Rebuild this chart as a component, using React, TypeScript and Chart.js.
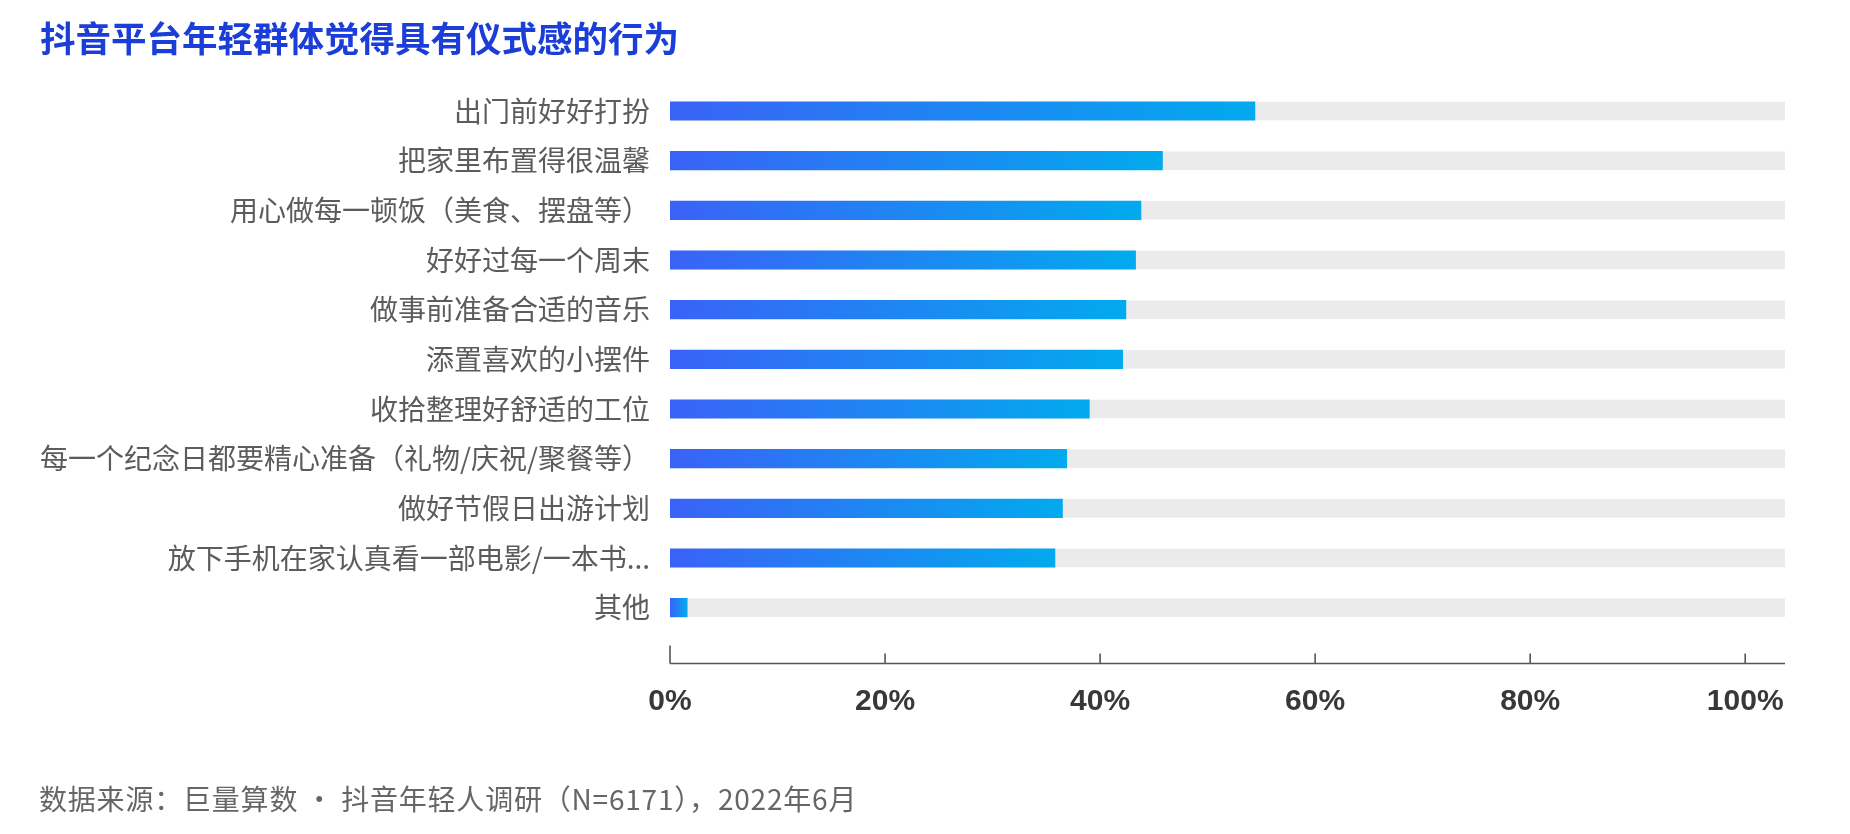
import React, { useEffect, useRef } from "react";
import { Chart, registerables } from "chart.js";

Chart.register(...registerables);

const TITLE = "抖音平台年轻群体觉得具有仪式感的行为";
const SOURCE = "数据来源：巨量算数 · 抖音年轻人调研（N=6171），2022年6月";

const categories = [
  "出门前好好打扮",
  "把家里布置得很温馨",
  "用心做每一顿饭（美食、摆盘等）",
  "好好过每一个周末",
  "做事前准备合适的音乐",
  "添置喜欢的小摆件",
  "收拾整理好舒适的工位",
  "每一个纪念日都要精心准备（礼物/庆祝/聚餐等）",
  "做好节假日出游计划",
  "放下手机在家认真看一部电影/一本书...",
  "其他",
];

const values = [54.4, 45.8, 43.8, 43.3, 42.4, 42.1, 39.0, 36.9, 36.5, 35.8, 1.6];

const tickValues = [0, 20, 40, 60, 80, 100];
const AXIS_MAX = 103.7;

const BAR_THICK = 18.5;
const AXIS_Y = 663.5;
const AREA_TOP = 86.2;
const AREA_BOTTOM = 632.5;

const trackPlugin = {
  id: "trackPlugin",
  beforeDatasetsDraw(chart: any) {
    const { ctx, chartArea, scales } = chart;
    const ys = scales.y;
    ctx.save();
    ctx.fillStyle = "#ebebeb";
    categories.forEach((_, i) => {
      const yc = ys.getPixelForValue(i);
      ctx.fillRect(chartArea.left, yc - BAR_THICK / 2, chartArea.right - chartArea.left, BAR_THICK);
    });
    ctx.restore();
  },
  afterDraw(chart: any) {
    const { ctx, chartArea, scales } = chart;
    const xs = scales.x;
    ctx.save();
    ctx.strokeStyle = "#555555";
    ctx.lineWidth = 1.6;
    ctx.beginPath();
    const x0 = xs.getPixelForValue(0);
    ctx.moveTo(x0, AXIS_Y);
    ctx.lineTo(chartArea.right, AXIS_Y);
    ctx.moveTo(x0, AXIS_Y);
    ctx.lineTo(x0, AXIS_Y - 18);
    tickValues.forEach((v) => {
      if (v === 0) return;
      const x = xs.getPixelForValue(v);
      ctx.moveTo(x, AXIS_Y);
      ctx.lineTo(x, AXIS_Y - 10);
    });
    ctx.stroke();
    ctx.restore();
  },
};

export default function App() {
  const ref = useRef<HTMLCanvasElement | null>(null);

  useEffect(() => {
    if (!ref.current) return;
    const chart = new Chart(ref.current, {
      type: "bar",
      data: {
        labels: categories,
        datasets: [
          {
            data: values,
            barThickness: BAR_THICK,
            backgroundColor: (c: any) => {
              const chart = c.chart;
              const xs = chart.scales && chart.scales.x;
              if (!xs || c.type !== "data") return "#2f7bf5";
              const v = c.raw as number;
              const a = xs.getPixelForValue(0);
              const b = xs.getPixelForValue(v);
              if (!isFinite(a) || !isFinite(b) || b <= a) return "#2f7bf5";
              const g = chart.ctx.createLinearGradient(a, 0, b, 0);
              g.addColorStop(0, "#3A62F7");
              g.addColorStop(1, "#02AAEE");
              return g;
            },
            borderWidth: 0,
          },
        ],
      },
      options: {
        indexAxis: "y",
        responsive: false,
        animation: false,
        devicePixelRatio: 1,
        layout: { padding: { top: AREA_TOP, right: 65, bottom: 0, left: 0 } },
        plugins: {
          legend: { display: false },
          tooltip: { enabled: false },
          title: { display: false },
        },
        scales: {
          x: {
            type: "linear",
            min: 0,
            max: AXIS_MAX,
            afterBuildTicks: (scale: any) => {
              scale.ticks = tickValues.map((v) => ({ value: v }));
            },
            afterFit: (scale: any) => {
              scale.height = 834 - AREA_BOTTOM;
            },
            grid: { display: false, drawTicks: false },
            border: { display: false },
            ticks: {
              padding: 51,
              color: "#383838",
              font: { family: "'Liberation Sans', Arial, sans-serif", size: 30, weight: "bold" },
              callback: (v: any) => `${v}%`,
            },
          },
          y: {
            type: "category",
            afterFit: (scale: any) => {
              scale.width = 670;
            },
            grid: { display: false, drawTicks: false },
            border: { display: false },
            ticks: {
              padding: 20,
              color: "#5c5c5c",
              font: { family: "'Noto Sans CJK SC', sans-serif", size: 28 },
              autoSkip: false,
            },
          },
        },
      },
      plugins: [trackPlugin],
    } as any);
    return () => chart.destroy();
  }, []);

  return (
    <div style={{ position: "fixed", left: 0, top: 0, width: 1850, height: 834, background: "#fff" }}>
      <canvas ref={ref} width={1850} height={834} style={{ position: "absolute", left: 0, top: 0, width: 1850, height: 834 }} />
      <div
        style={{
          position: "absolute",
          left: 40,
          top: 19,
          fontFamily: "'Noto Sans CJK SC', sans-serif",
          fontWeight: 700,
          fontSize: 35.5,
          lineHeight: "35.5px",
          color: "#1C3ED8",
          whiteSpace: "nowrap",
        }}
      >
        {TITLE}
      </div>
      <div
        style={{
          position: "absolute",
          left: 39,
          top: 784,
          fontFamily: "'Noto Sans CJK SC', sans-serif",
          fontSize: 28,
          lineHeight: "28px",
          letterSpacing: "0.8px",
          color: "#666666",
          whiteSpace: "nowrap",
        }}
      >
        {SOURCE}
      </div>
    </div>
  );
}
